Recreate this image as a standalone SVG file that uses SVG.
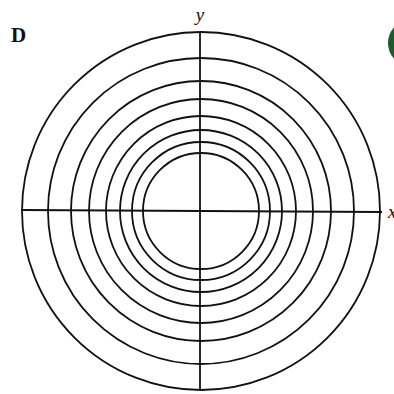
<svg xmlns="http://www.w3.org/2000/svg" width="394" height="394" viewBox="0 0 394 394">
<style>
.c{fill:none;stroke:#111;stroke-width:1.8}
.a{stroke:#111;stroke-width:1.8}
.lbl{font-family:"Liberation Serif",serif;fill:#111}
</style>
<rect width="394" height="394" fill="#fff"/>
<ellipse cx="408" cy="43" rx="20" ry="22" fill="#1d5a2c"/>
<g id="circles">
<circle class="c" cx="201" cy="211" r="179"/>
<circle class="c" cx="201" cy="211" r="153"/>
<circle class="c" cx="201" cy="211" r="130"/>
<circle class="c" cx="201" cy="211" r="112"/>
<circle class="c" cx="201" cy="211" r="95"/>
<circle class="c" cx="201" cy="211" r="81"/>
<circle class="c" cx="201" cy="211" r="69"/>
<circle class="c" cx="201" cy="211" r="58"/>
</g>
<g id="axes">
<line class="a" x1="21" y1="210" x2="382" y2="212"/>
<line class="a" x1="200" y1="32" x2="200" y2="390"/>
</g>
<text class="lbl" x="11" y="42" font-size="21" font-weight="bold">D</text>
<text class="lbl" x="200" y="21" font-size="19" font-style="italic" text-anchor="middle">y</text>
<text class="lbl" x="388" y="218" font-size="19" font-style="italic">x</text>
</svg>
